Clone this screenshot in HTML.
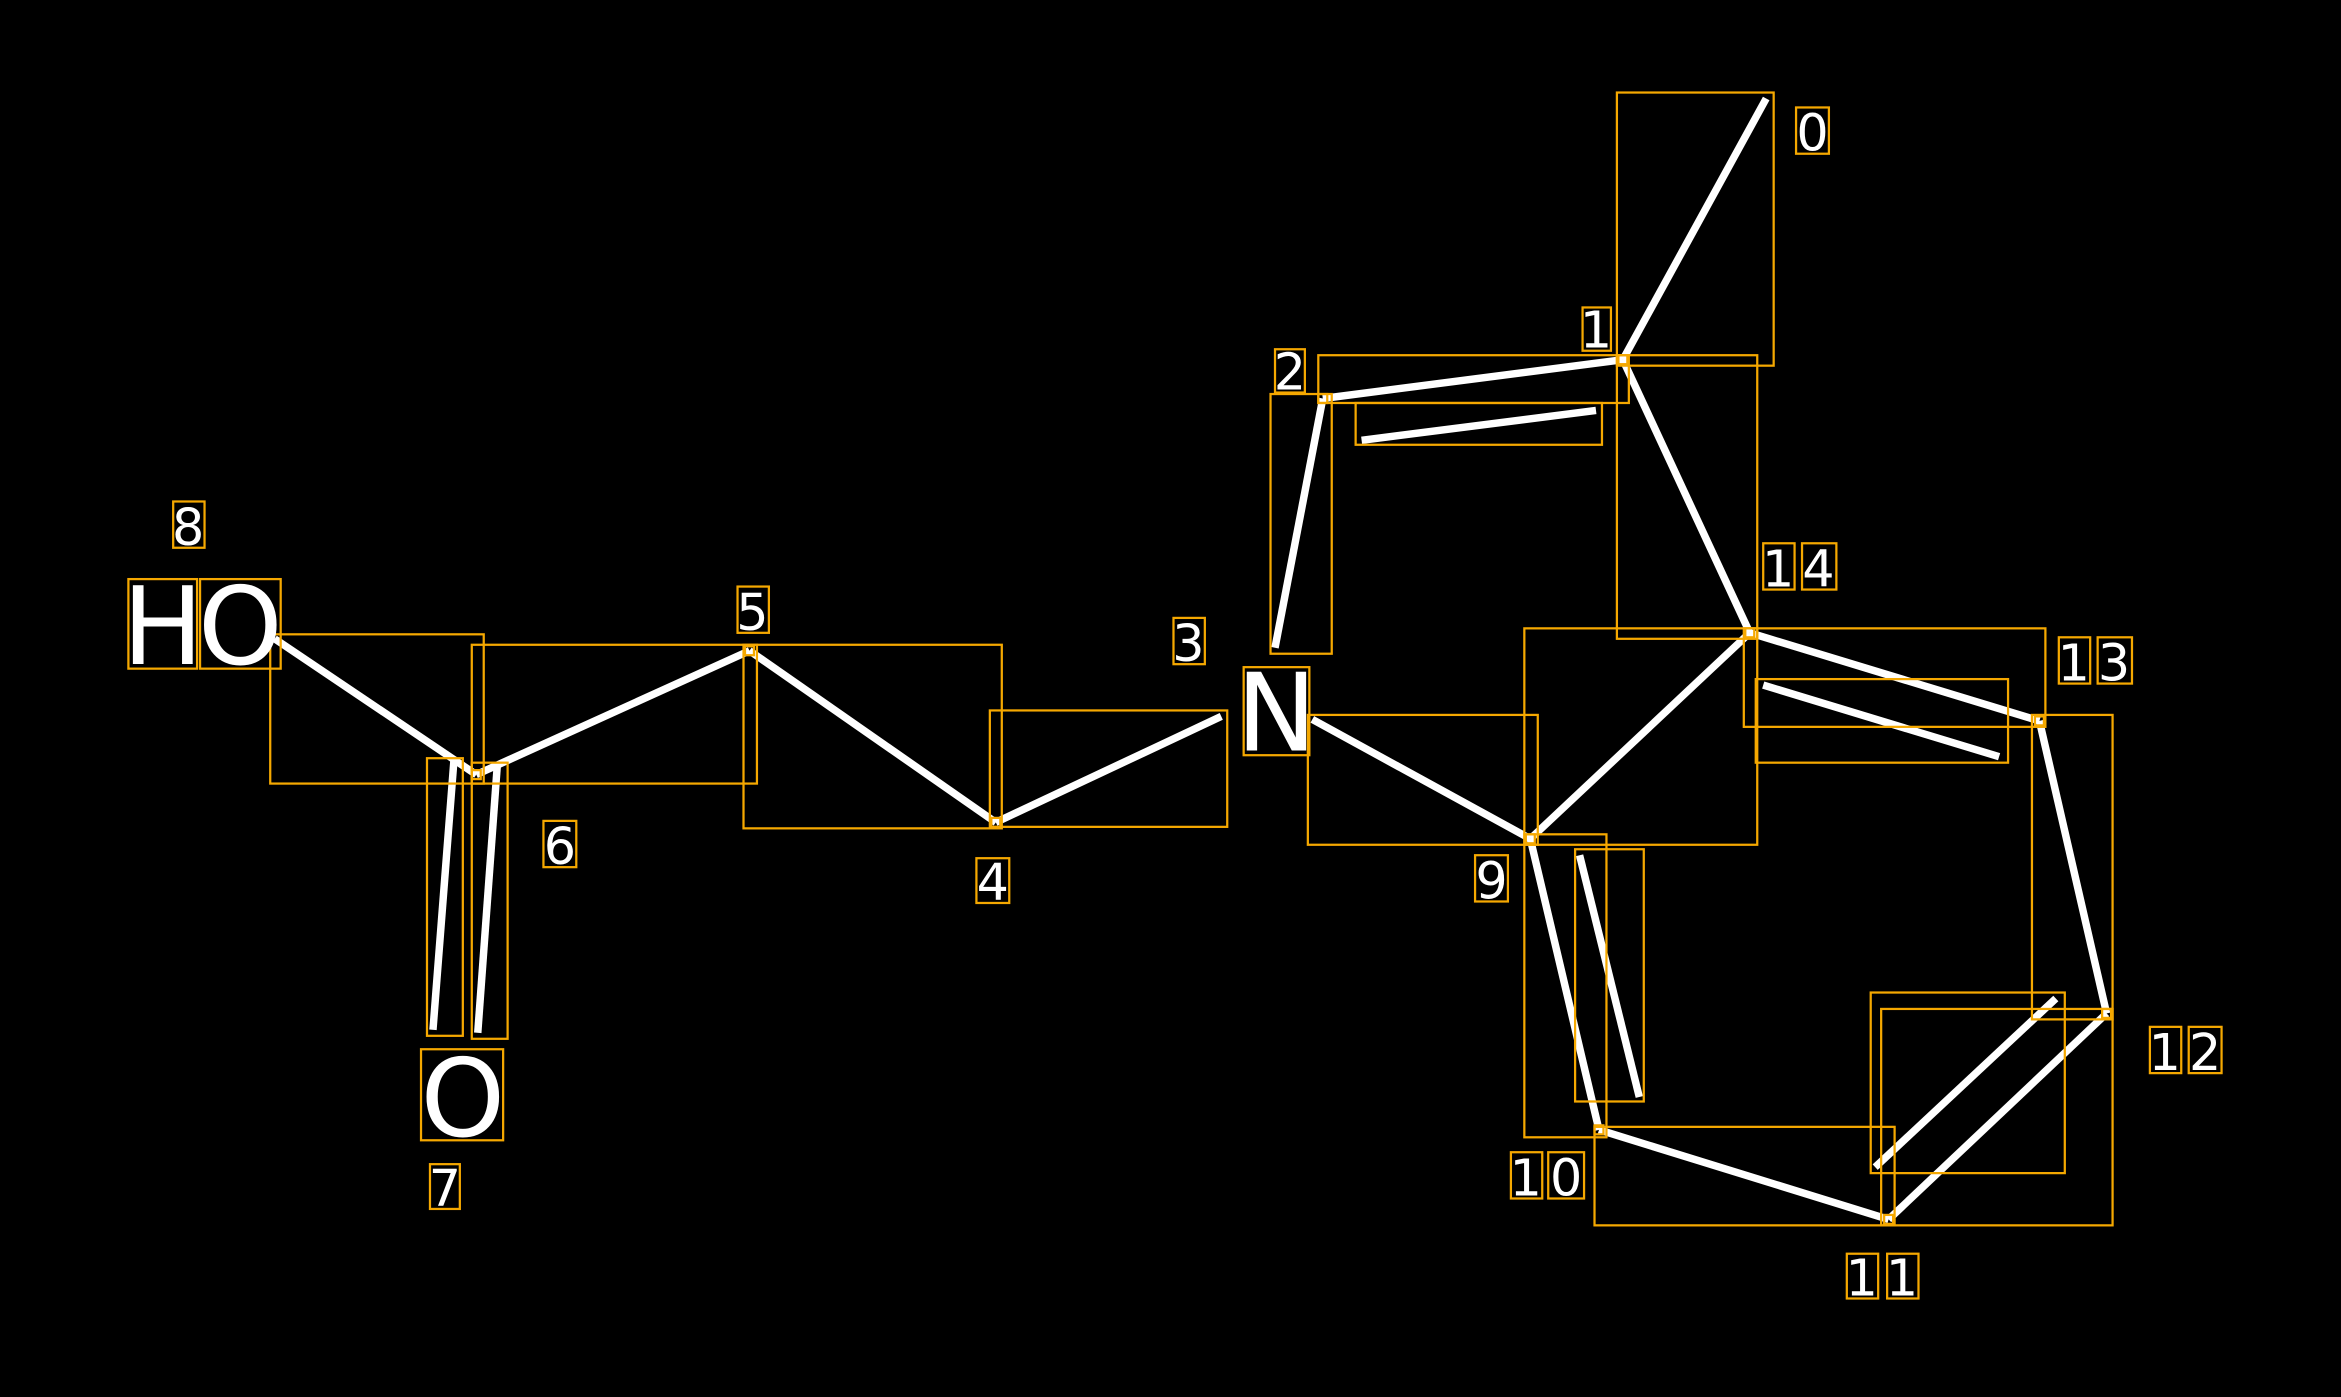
<!DOCTYPE html>
<html><head><meta charset="utf-8"><style>
html,body{margin:0;padding:0;background:#000;}
svg{display:block;}
text{font-family:"DejaVu Sans","Liberation Sans",sans-serif;fill:#fff;text-anchor:middle;}
</style></head><body>
<svg width="2341" height="1397" viewBox="0 0 1568 936" preserveAspectRatio="none" xmlns="http://www.w3.org/2000/svg">
<rect x="0" y="0" width="1568" height="936" fill="#000"/>
<g stroke="#fff" stroke-width="5" fill="none">
<line x1="1183" y1="66" x2="1087" y2="241"/>
<line x1="1087" y1="241" x2="886" y2="267"/>
<line x1="912" y1="295" x2="1069" y2="275"/>
<line x1="886" y1="267" x2="854" y2="434"/>
<line x1="1087" y1="241" x2="1172" y2="424"/>
<line x1="1172" y1="424" x2="1366" y2="483"/>
<line x1="1181" y1="459" x2="1339" y2="507"/>
<line x1="1366" y1="483" x2="1411" y2="679"/>
<line x1="1411" y1="679" x2="1265" y2="817"/>
<line x1="1377" y1="669" x2="1256" y2="782"/>
<line x1="1265" y1="817" x2="1071" y2="757"/>
<line x1="1071" y1="757" x2="1025" y2="562"/>
<line x1="1058" y1="573" x2="1098" y2="735"/>
<line x1="1025" y1="562" x2="1172" y2="424"/>
<line x1="1025" y1="562" x2="879" y2="482"/>
<line x1="818" y1="480" x2="667" y2="551"/>
<line x1="667" y1="551" x2="502" y2="436"/>
<line x1="502" y1="436" x2="319" y2="519"/>
<line x1="319" y1="519" x2="184" y2="428"/>
<line x1="304" y1="510" x2="290" y2="690"/>
<line x1="333" y1="514" x2="320" y2="692"/>
</g>
<g stroke="#f5a800" stroke-width="1.5" fill="none">
<rect x="1083" y="62" width="105" height="183"/>
<rect x="883" y="238" width="208" height="32"/>
<rect x="908" y="270" width="165" height="28"/>
<rect x="851" y="264" width="41" height="174"/>
<rect x="1083" y="238" width="94" height="190"/>
<rect x="1168" y="421" width="202" height="66"/>
<rect x="1176" y="455" width="169" height="56"/>
<rect x="1361" y="479" width="54" height="204"/>
<rect x="1260" y="676" width="155" height="145"/>
<rect x="1253" y="665" width="130" height="121"/>
<rect x="1068" y="755" width="201" height="66"/>
<rect x="1021" y="559" width="55" height="203"/>
<rect x="1055" y="569" width="46" height="169"/>
<rect x="1021" y="421" width="156" height="145"/>
<rect x="876" y="479" width="154" height="87"/>
<rect x="663" y="476" width="159" height="78"/>
<rect x="498" y="432" width="173" height="123"/>
<rect x="316" y="432" width="191" height="93"/>
<rect x="181" y="425" width="143" height="100"/>
<rect x="286" y="508" width="24" height="186"/>
<rect x="316" y="511" width="24" height="185"/>
<!-- label boxes -->
<rect x="1203" y="72" width="22" height="31"/>
<rect x="1060" y="206" width="19" height="29"/>
<rect x="854" y="234" width="20" height="29"/>
<rect x="1181" y="364" width="21" height="31"/><rect x="1207" y="364" width="23" height="31"/>
<rect x="1379" y="427" width="21" height="31"/><rect x="1405" y="427" width="23" height="31"/>
<rect x="1440" y="688" width="21" height="31"/><rect x="1466" y="688" width="22" height="31"/>
<rect x="1237" y="840" width="21" height="30"/><rect x="1264" y="840" width="21" height="30"/>
<rect x="1012" y="772" width="21" height="31"/><rect x="1037" y="772" width="24" height="31"/>
<rect x="988" y="573" width="22" height="31"/>
<rect x="786" y="414" width="21" height="31"/>
<rect x="833" y="447" width="44" height="59"/>
<rect x="654" y="575" width="22" height="30"/>
<rect x="494" y="393" width="21" height="31"/>
<rect x="364" y="550" width="22" height="31"/>
<rect x="116" y="336" width="21" height="31"/>
<rect x="86" y="388" width="46" height="60"/>
<rect x="134" y="388" width="54" height="60"/>
<rect x="282" y="703" width="55" height="61"/>
<rect x="288" y="780" width="20" height="30"/>
</g>
<g fill="none" stroke="#f5a800" stroke-width="1.5">
<rect x="1084" y="238" width="6" height="6"/><rect x="883" y="264" width="6" height="6"/>
<rect x="1169" y="421" width="6" height="6"/><rect x="1363" y="480" width="6" height="6"/>
<rect x="1408" y="676" width="6" height="6"/><rect x="1262" y="814" width="6" height="6"/>
<rect x="1068" y="754" width="6" height="6"/><rect x="1022" y="559" width="6" height="6"/>
<rect x="664" y="548" width="6" height="6"/><rect x="499" y="433" width="6" height="6"/>
<rect x="316" y="516" width="6" height="6"/>
</g>
<g font-size="34">
<text x="1214" y="101">0</text>
<text x="1069" y="233">1</text>
<text x="864" y="261">2</text>
<text x="1191" y="393">1</text><text x="1218" y="393">4</text>
<text x="1389" y="456">1</text><text x="1416" y="456">3</text>
<text x="1450" y="717">1</text><text x="1477" y="717">2</text>
<text x="1247" y="868">1</text><text x="1274" y="868">1</text>
<text x="1022" y="801">1</text><text x="1049" y="801">0</text>
<text x="999" y="602">9</text>
<text x="796" y="443">3</text>
<text x="665" y="603">4</text>
<text x="504" y="422">5</text>
<text x="375" y="579">6</text>
<text x="126" y="365">8</text>
<text x="298" y="808">7</text>
</g>
<g font-size="72">
<text x="855" y="503">N</text>
<text x="109" y="445">H</text>
<text x="161" y="445">O</text>
<text x="310" y="761">O</text>
</g>
</svg>
</body></html>
